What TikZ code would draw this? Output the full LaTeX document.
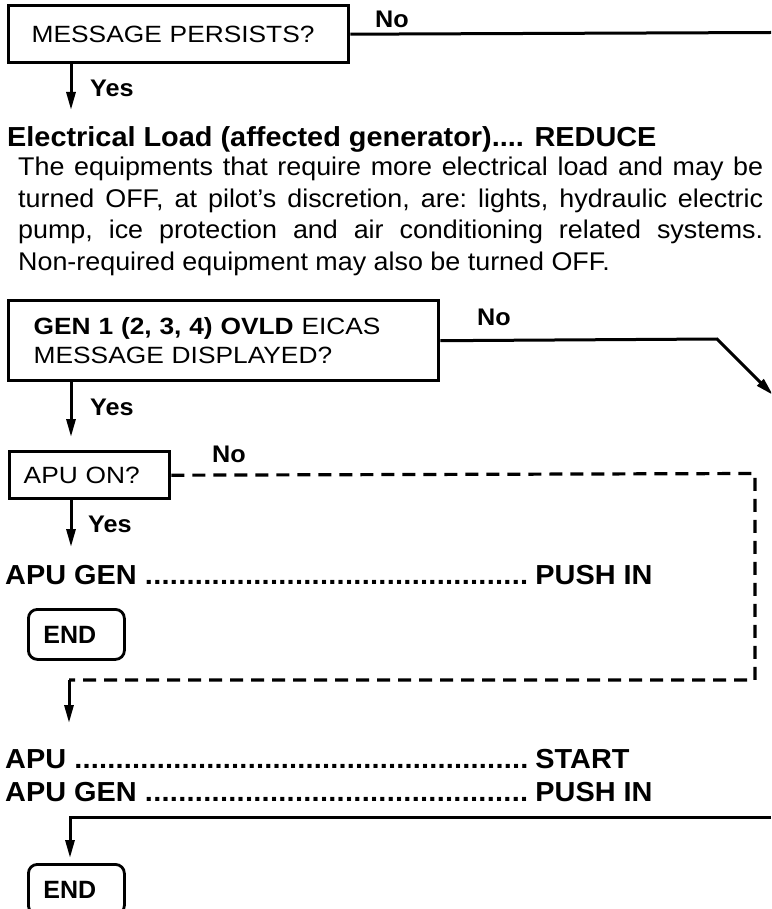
\documentclass[tikz,border=0pt]{standalone}
\usepackage{fontspec}
\usetikzlibrary{arrows.meta}
\newfontfamily\boxf[FakeStretch=1.12]{Liberation Sans}
\newfontfamily\parf[FakeStretch=1.05]{Liberation Sans}
\newfontfamily\headf[FakeStretch=1.05]{Liberation Sans}
\newfontfamily\endf{Liberation Sans}
\newcommand\dotlead{\xleaders\hbox to 8.2pt{\hss.\hss}\hfill}
\begin{document}
\begin{tikzpicture}[x=1pt,y=-1pt,
  qbox/.style={draw, line width=3.4pt, inner ysep=0pt, align=left, anchor=north west,
    font=\boxf\fontsize{23.5}{29}\selectfont},
  endbox/.style={draw, line width=2.8pt, rounded corners=9pt, anchor=north west,
    minimum width=96pt, minimum height=50pt, inner xsep=15pt, inner ysep=0pt,
    text width=66pt, align=left, font=\endf\bfseries\fontsize{25}{30}\selectfont},
  lbl/.style={anchor=base west, inner sep=0pt, font=\headf\bfseries\fontsize{24}{28}\selectfont},
  head/.style={anchor=base west, inner sep=0pt, font=\headf\bfseries\fontsize{27.5}{33}\selectfont},
  conn/.style={line width=3pt},
  arr/.style={conn, -{Triangle[length=18pt,width=9pt]}},
  dashline/.style={line width=3.2pt, dash pattern=on 13pt off 8pt}
]
\useasboundingbox (0,0) rectangle (771,909);
\clip (0,0) rectangle (771,909);

% Box 1
\node[qbox, minimum width=340pt, minimum height=57pt, inner xsep=23pt, text width=294pt]
  (m1) at (7,4) {MESSAGE PERSISTS?};
\coordinate (c1) at (771,32.5);
\draw[conn] (m1.east) -- (c1);
\node[lbl] (no1) at (375,28) {No};
\coordinate (t1) at (71,110);
\draw[arr] (m1.south west -| t1) -- (t1);
\node[lbl] (yes1) at (90,97) {Yes};

% Heading and paragraph
\node[head] (h1) at (7,147) {Electrical Load (affected generator).... REDUCE};
\node[anchor=north west, inner sep=0pt, text width=745pt, align=justify,
  font=\parf\fontsize{25.6}{31.6}\selectfont] (p1) at (18,157)
  {\frenchspacing\hyphenpenalty=10000\exhyphenpenalty=10000\parindent=0pt
   The equipments that require more electrical load and may be\linebreak
   turned OFF, at pilot’s discretion, are: lights, hydraulic electric\linebreak
   pump, ice protection and air conditioning related systems.\linebreak
   Non-required equipment may also be turned OFF.};

% Box 2
\node[qbox, minimum width=430pt, minimum height=80pt, inner xsep=25pt, text width=380pt]
  (m2) at (7,299) {\textbf{GEN 1 (2, 3, 4) OVLD} EICAS\\MESSAGE DISPLAYED?};
\coordinate (k2) at (717,339);
\coordinate (t2) at (773,395);
\draw[arr] (m2.east) -- (k2) -- (t2);
\node[lbl] (no2) at (477,325) {No};
\coordinate (t3) at (71,437);
\draw[arr] (m2.south west -| t3) -- (t3);
\node[lbl] (yes2) at (90,415) {Yes};

% Box 3
\node[qbox, minimum width=160pt, minimum height=47pt, inner xsep=14pt, text width=132pt]
  (m3) at (8,450) {APU ON?};
\coordinate (d1) at (755,473.5);
\coordinate (d2) at (755,680);
\coordinate (d3) at (69,680);
\coordinate (t4) at (69,723);
\draw[dashline] (m3.east) -- (d1) -- (d2) -- (d3);
\draw[arr] (d3) -- (t4);
\node[lbl] (no3) at (212,462) {No};
\coordinate (t6) at (71,547);
\draw[arr] (m3.south west -| t6) -- (t6);
\node[lbl] (yes3) at (88,532) {Yes};

% APU GEN push in (1)
\node[head] (a1) at (5,584) {\hbox to 523pt{APU GEN \dotlead}\kern7pt PUSH IN};
\node[endbox] (end1) at (27,608) {END};

% APU start / APU GEN
\node[head] (a2) at (5,768) {\hbox to 523pt{APU \dotlead}\kern7pt START};
\node[head] (a3) at (5,801) {\hbox to 523pt{APU GEN \dotlead}\kern7pt PUSH IN};
\coordinate (e1) at (771,817);
\coordinate (e2) at (70,817);
\coordinate (t5) at (70,858);
\draw[arr] (e1) -- (e2) -- (t5);
\node[endbox] (end2) at (27,863) {END};
\end{tikzpicture}
\end{document}
